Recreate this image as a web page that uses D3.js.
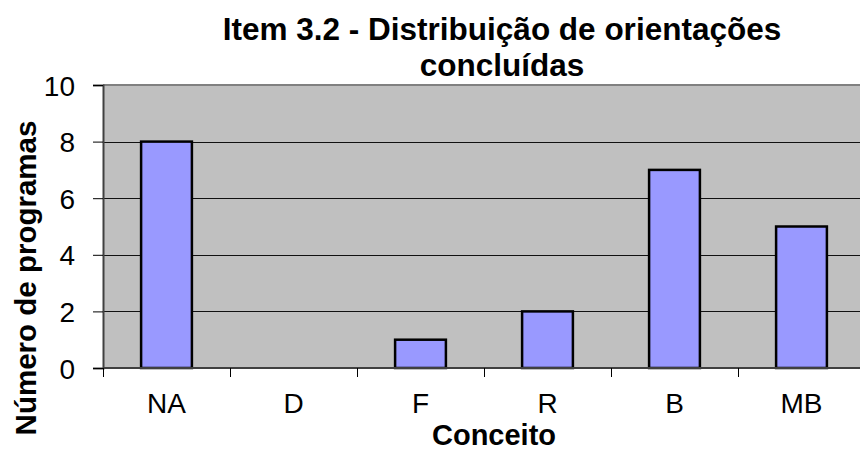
<!DOCTYPE html>
<html>
<head>
<meta charset="utf-8">
<script src="https://cdn.jsdelivr.net/npm/d3@7/dist/d3.min.js"></script>
<style>
  body { margin: 0; background: #fff; }
  text { font-family: "Liberation Sans", Arial, sans-serif; fill: #000; }
</style>
</head>
<body>
<svg id="chart"></svg>
<script>
var categories = ["NA", "D", "F", "R", "B", "MB"];
var values = [8, 0, 1, 2, 7, 5];
var yTicks = [0, 2, 4, 6, 8, 10];

var margin = {top: 85, right: -5, bottom: 82, left: 103},
    width = 860 - margin.left - margin.right,
    height = 450 - margin.top - margin.bottom;

var svg = d3.select("#chart")
    .attr("width", 860)
    .attr("height", 450);

var g = svg.append("g")
    .attr("transform", "translate(" + margin.left + "," + margin.top + ")");

var x = d3.scaleBand()
    .domain(categories)
    .range([0, width])
    .padding(0);

var y = d3.scaleLinear()
    .domain([0, 10])
    .range([height, 0]);

// plot background
g.append("rect")
    .attr("width", width)
    .attr("height", height)
    .attr("fill", "#c0c0c0");

// gridlines
g.selectAll(".grid")
    .data(yTicks.slice(1, -1))
  .enter().append("line")
    .attr("class", "grid")
    .attr("x1", 0)
    .attr("x2", width)
    .attr("y1", function(d) { return Math.round(y(d)) + 0.5; })
    .attr("y2", function(d) { return Math.round(y(d)) + 0.5; })
    .attr("stroke", "#111")
    .attr("stroke-width", 1);

// top border
g.append("line")
    .attr("x1", 0).attr("x2", width)
    .attr("y1", y(10)).attr("y2", y(10))
    .attr("stroke", "#808080")
    .attr("stroke-width", 2);

// bars
var bw = x.bandwidth() * 0.4;
g.selectAll(".bar")
    .data(values)
  .enter().append("rect")
    .attr("class", "bar")
    .attr("x", function(d, i) { return x(categories[i]) + (x.bandwidth() - bw) / 2; })
    .attr("y", function(d) { return y(d); })
    .attr("width", bw)
    .attr("height", function(d) { return height - y(d); })
    .attr("fill", "#9999ff")
    .attr("stroke", "#000")
    .attr("stroke-width", 2.5)
    .style("display", function(d) { return d > 0 ? null : "none"; });

// y axis
var yAxis = d3.axisLeft(y)
    .tickValues(yTicks)
    .tickSize(10)
    .tickPadding(18);

var ya = g.append("g")
    .call(yAxis);
ya.select(".domain").attr("stroke", "#404040").attr("stroke-width", 2);
ya.selectAll(".tick line").attr("stroke", "#000");
ya.selectAll("text")
    .style("font-size", "28px")
    .attr("dy", "0.36em");

// x axis: ticks at category boundaries
var xa = g.append("g")
    .attr("transform", "translate(0," + height + ")");
xa.append("line")
    .attr("x1", 0).attr("x2", width)
    .attr("stroke", "#404040")
    .attr("stroke-width", 2);
xa.selectAll(".xtick")
    .data(categories)
  .enter().append("line")
    .attr("class", "xtick")
    .attr("x1", function(d) { return Math.round(x(d)) + 0.5; })
    .attr("x2", function(d) { return Math.round(x(d)) + 0.5; })
    .attr("y1", 0)
    .attr("y2", 9)
    .attr("stroke", "#000");
xa.selectAll(".xlabel")
    .data(categories)
  .enter().append("text")
    .attr("class", "xlabel")
    .attr("x", function(d) { return x(d) + x.bandwidth() / 2; })
    .attr("y", 45)
    .attr("text-anchor", "middle")
    .style("font-size", "28px")
    .text(function(d) { return d; });

// titles
svg.append("text")
    .attr("x", 502)
    .attr("y", 40)
    .attr("text-anchor", "middle")
    .style("font-size", "31.5px")
    .style("font-weight", "bold")
    .text("Item 3.2 - Distribuição de orientações");

svg.append("text")
    .attr("x", 502)
    .attr("y", 76)
    .attr("text-anchor", "middle")
    .style("font-size", "31.5px")
    .style("font-weight", "bold")
    .text("concluídas");

svg.append("text")
    .attr("x", 494)
    .attr("y", 445)
    .attr("text-anchor", "middle")
    .style("font-size", "29px")
    .style("font-weight", "bold")
    .text("Conceito");

svg.append("text")
    .attr("transform", "translate(36,278) rotate(-90)")
    .attr("text-anchor", "middle")
    .style("font-size", "29.5px")
    .style("font-weight", "bold")
    .text("Número de programas");
</script>
</body>
</html>
